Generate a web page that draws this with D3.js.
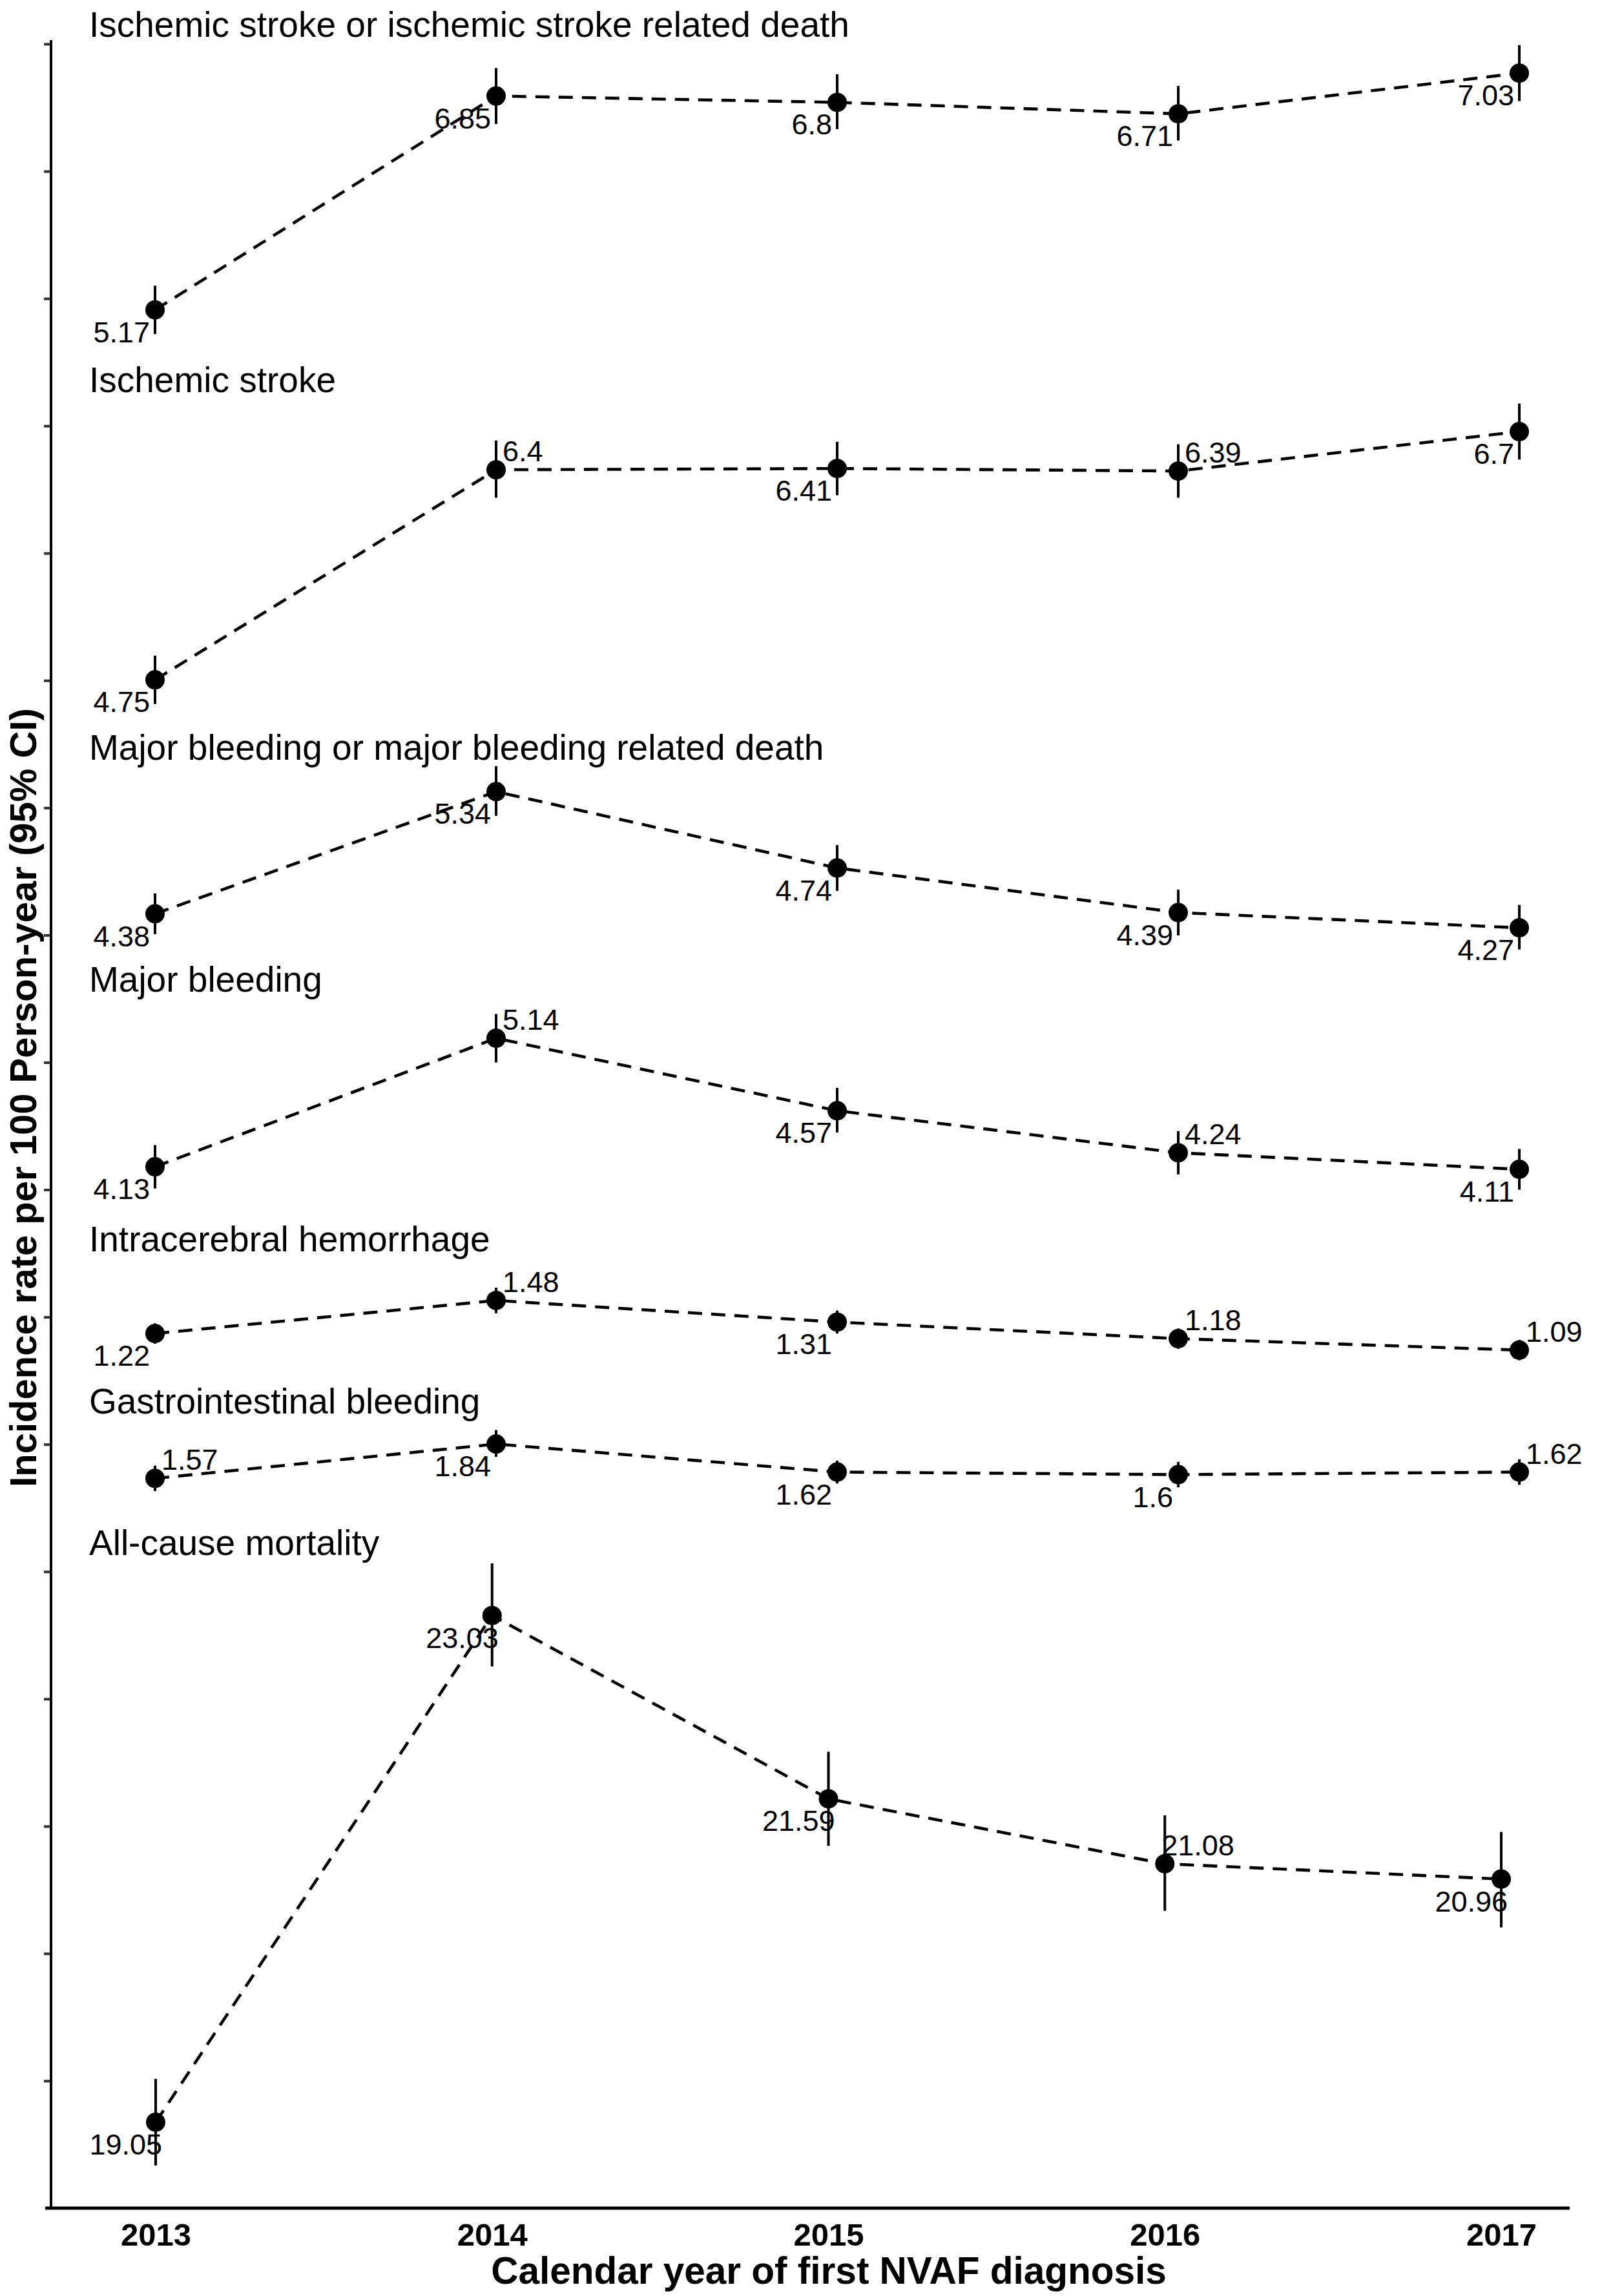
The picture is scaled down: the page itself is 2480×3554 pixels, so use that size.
<!DOCTYPE html>
<html><head><meta charset="utf-8">
<script src="https://cdn.jsdelivr.net/npm/d3@7"></script>
<style>html,body{margin:0;padding:0;background:#fff} svg{display:block}</style>
</head><body>
<svg id="chart" width="2480" height="3554"></svg>
<script>
// ---------------- data ----------------
const years = [2013, 2014, 2015, 2016, 2017];
const outcomes = [
  "Ischemic stroke or ischemic stroke related death",
  "Ischemic stroke",
  "Major bleeding or major bleeding related death",
  "Major bleeding",
  "Intracerebral hemorrhage",
  "Gastrointestinal bleeding",
  "All-cause mortality"
];
const rateISRD = [5.17, 6.85, 6.8, 6.71, 7.03];
const lowISRD  = [4.98, 6.63, 6.59, 6.50, 6.81];
const highISRD = [5.36, 7.07, 7.02, 6.93, 7.25];

const rateIS = [4.75, 6.4, 6.41, 6.39, 6.7];
const lowIS  = [4.56, 6.18, 6.20, 6.18, 6.48];
const highIS = [4.94, 6.63, 6.62, 6.60, 6.92];

const rateMBRD = [4.38, 5.34, 4.74, 4.39, 4.27];
const lowMBRD  = [4.22, 5.15, 4.56, 4.21, 4.10];
const highMBRD = [4.54, 5.54, 4.92, 4.57, 4.45];

const rateMB = [4.13, 5.14, 4.57, 4.24, 4.11];
const lowMB  = [3.96, 4.95, 4.40, 4.07, 3.95];
const highMB = [4.30, 5.33, 4.75, 4.41, 4.27];

const rateICH = [1.22, 1.48, 1.31, 1.18, 1.09];
const lowICH  = [1.14, 1.38, 1.22, 1.10, 1.01];
const highICH = [1.30, 1.58, 1.40, 1.26, 1.17];

const rateGI = [1.57, 1.84, 1.62, 1.6, 1.62];
const lowGI  = [1.47, 1.74, 1.53, 1.50, 1.52];
const highGI = [1.67, 1.95, 1.71, 1.70, 1.72];

const rateACM = [19.05, 23.03, 21.59, 21.08, 20.96];
const lowACM  = [18.71, 22.63, 21.22, 20.71, 20.58];
const highACM = [19.39, 23.44, 21.96, 21.46, 21.33];

// ---------------- layout (not data) ----------------
const panelShift = [9.741, 7.255, 5.787, 4.05, 5.65, 4.162, -18.375]; // vertical stacking offset, axis units
const titleY = [57, 607, 1176, 1535, 1937, 2188, 2407];
const labelPos = [
  ["bl","bl","bl","bl","bl"],
  ["bl","tr","bl","tr","bl"],
  ["bl","bl","bl","bl","bl"],
  ["bl","tr","bl","tr","bl"],
  ["bl","tr","bl","tr","tr"],
  ["tr","bl","bl","bl","tr"],
  ["bl","bl","bl","tr","bl"]
];

const rates = [rateISRD, rateIS, rateMBRD, rateMB, rateICH, rateGI, rateACM];
const lows  = [lowISRD, lowIS, lowMBRD, lowMB, lowICH, lowGI, lowACM];
const highs = [highISRD, highIS, highMBRD, highMB, highICH, highGI, highACM];

const panels = outcomes.map((name, i) => ({
  name, shift: panelShift[i], ty: titleY[i], mort: i === 6,
  pts: years.map((yr, j) => ({year: yr, rate: rates[i][j], lo: lows[i][j], hi: highs[i][j], pos: labelPos[i][j]}))
}));

// ---------------- scales ----------------
const FONT = "'Liberation Sans', Arial, Helvetica, sans-serif";
const svg = d3.select("#chart");
const xMain = d3.scaleLinear().domain([2013, 2017]).range([240, 2352]);
const xAxisS = d3.scaleLinear().domain([2013, 2017]).range([241, 2324]);
const yG = d3.scaleLinear().domain([0, 17]).range([3418, 68]);

// y axis
const yAx = svg.append("g").attr("transform", "translate(79,0)")
  .call(d3.axisLeft(yG).tickValues(d3.range(1, 18)).tickFormat("").tickSize(11).tickSizeOuter(0));
yAx.select(".domain").remove();
yAx.selectAll(".tick line").attr("stroke", "#333").attr("stroke-width", 4);
svg.append("line").attr("x1", 79).attr("x2", 79).attr("y1", 62).attr("y2", 3418)
  .attr("stroke", "#000").attr("stroke-width", 4);

// x axis
svg.append("line").attr("x1", 70).attr("x2", 2430).attr("y1", yG(0)).attr("y2", yG(0))
  .attr("stroke", "#000").attr("stroke-width", 5);
const xAx = svg.append("g").attr("transform", `translate(0,${yG(0)})`)
  .call(d3.axisBottom(xAxisS).tickValues(years).tickFormat(d3.format("d")).tickSize(0).tickPadding(23));
xAx.select(".domain").remove();
xAx.selectAll("text").attr("font-family", FONT).attr("font-size", 49).attr("font-weight", "bold").attr("fill", "#000");

// axis titles
svg.append("text").attr("x", 1283).attr("y", 3535).attr("text-anchor", "middle")
  .attr("font-family", FONT).attr("font-size", 58.5).attr("font-weight", "bold")
  .text("Calendar year of first NVAF diagnosis");
svg.append("text").attr("transform", "translate(56,1699) rotate(-90)").attr("text-anchor", "middle")
  .attr("font-family", FONT).attr("font-size", 58).attr("font-weight", "bold")
  .text("Incidence rate per 100 Person-year (95% CI)");

// panels
panels.forEach(p => {
  const x = p.mort ? xAxisS : xMain;
  const y = v => yG(v + p.shift);
  const g = svg.append("g");
  g.append("text").attr("x", 138).attr("y", p.ty).attr("font-family", FONT).attr("font-size", 55)
    .text(p.name);
  g.selectAll("line.ci").data(p.pts).join("line").attr("class", "ci")
    .attr("x1", d => x(d.year)).attr("x2", d => x(d.year))
    .attr("y1", d => y(d.lo)).attr("y2", d => y(d.hi))
    .attr("stroke", "#000").attr("stroke-width", 4);
  g.append("path").datum(p.pts)
    .attr("d", d3.line().x(d => x(d.year)).y(d => y(d.rate)))
    .attr("fill", "none").attr("stroke", "#000").attr("stroke-width", 4.6)
    .attr("stroke-dasharray", "22,14");
  g.selectAll("circle").data(p.pts).join("circle")
    .attr("cx", d => x(d.year)).attr("cy", d => y(d.rate)).attr("r", 15).attr("fill", "#000");
  const dxBL = p.mort ? 10 : -8, dxTR = p.mort ? -5 : 10;
  g.selectAll("text.val").data(p.pts).join("text").attr("class", "val")
    .attr("x", d => x(d.year) + (d.pos === "bl" ? dxBL : dxTR))
    .attr("y", d => y(d.rate) + (d.pos === "bl" ? 50 : -13))
    .attr("text-anchor", d => d.pos === "bl" ? "end" : "start")
    .attr("font-family", FONT).attr("font-size", 45)
    .text(d => d.rate);
});
</script>
</body></html>
